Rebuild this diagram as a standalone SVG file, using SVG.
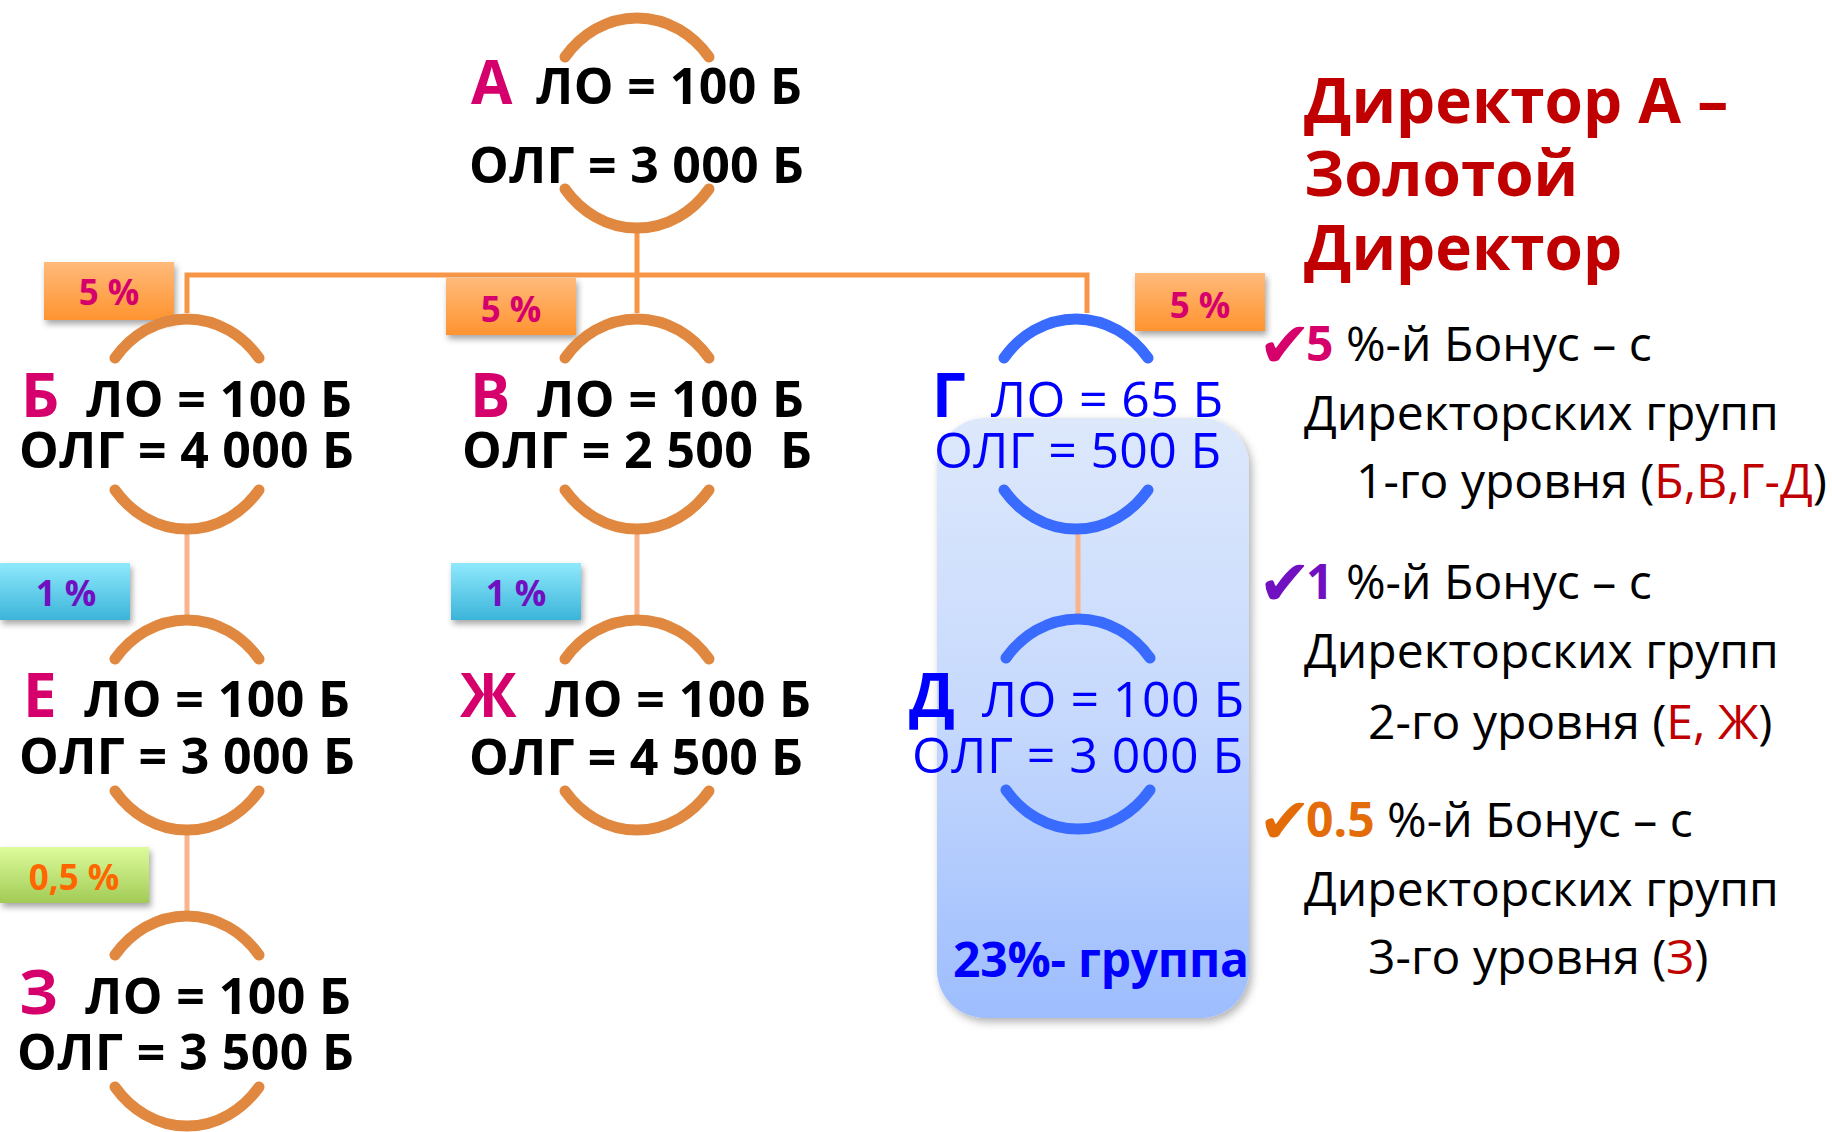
<svg xmlns="http://www.w3.org/2000/svg" xmlns:xlink="http://www.w3.org/1999/xlink" width="1832" height="1132" viewBox="0 0 1832 1132">
<defs>
<style>
.arc{fill:none;stroke:#E08840;stroke-width:11;stroke-linecap:round}
.arcb{fill:none;stroke:#3A6BFF;stroke-width:11;stroke-linecap:round}
.big{font-family:"Open Sans","Noto Sans",sans-serif;font-weight:700;font-size:60px;fill:#D6006C}
.bigb{font-family:"Open Sans","Noto Sans",sans-serif;font-weight:700;font-size:60px;fill:#0000FF}
.t{font-family:"Open Sans","Noto Sans",sans-serif;font-weight:700;font-size:50px;fill:#000}
.tb{font-family:"Open Sans","Noto Sans",sans-serif;font-weight:400;font-size:50px;fill:#0000FF}
.lbl{font-family:"Open Sans","Noto Sans",sans-serif;font-weight:700;font-size:35px;text-anchor:middle}
.conn{stroke:#F79646;stroke-width:5;fill:none}
.conn2{stroke:#F8B48C;stroke-width:5;fill:none}
.head{font-family:"Open Sans","Noto Sans",sans-serif;font-weight:700;font-size:62px;fill:#C00000}
.body{font-family:"Open Sans","Noto Sans",sans-serif;font-weight:400;font-size:48px;fill:#000}
.chk{font-family:"DejaVu Sans",sans-serif;font-size:64px;font-weight:700}
.red{fill:#C00000}
</style>
<linearGradient id="gOr" x1="0" y1="0" x2="0" y2="1"><stop offset="0" stop-color="#FFBA7A"/><stop offset="1" stop-color="#FF9430"/></linearGradient>
<linearGradient id="gCy" x1="0" y1="0" x2="0" y2="1"><stop offset="0" stop-color="#8FE9FC"/><stop offset="1" stop-color="#3CB4DA"/></linearGradient>
<linearGradient id="gGr" x1="0" y1="0" x2="0" y2="1"><stop offset="0" stop-color="#DDFC9C"/><stop offset="1" stop-color="#A2CB55"/></linearGradient>
<linearGradient id="gBl" x1="0" y1="0" x2="0" y2="1"><stop offset="0" stop-color="#DDE8FB"/><stop offset="0.5" stop-color="#C6D9FD"/><stop offset="1" stop-color="#9DBDFE"/></linearGradient>
<filter id="sh" x="-20%" y="-20%" width="150%" height="170%"><feDropShadow dx="2" dy="4" stdDeviation="3" flood-color="#000" flood-opacity="0.35"/></filter>
<filter id="shBox" x="-10%" y="-5%" width="125%" height="115%"><feDropShadow dx="3" dy="4" stdDeviation="4" flood-color="#000" flood-opacity="0.3"/></filter>
<path id="arcTop" d="M -72 -66 A 92.5 105 0 0 1 72 -66"/>
<path id="arcBot" d="M -72 66 A 92.5 105 0 0 0 72 66"/>
</defs>
<rect width="1832" height="1132" fill="#FFFFFF"/>

<!-- 23% group box -->
<g id="group23">
<rect x="937" y="418" width="312" height="600" rx="48" fill="url(#gBl)" filter="url(#shBox)"/>
<text x="953" y="977" font-family="Open Sans, Noto Sans, sans-serif" font-weight="700" font-size="48" fill="#0000FF" textLength="296">23%- группа</text>
</g>

<!-- connectors -->
<g id="connectors">
<path class="conn" d="M637 228 V313 M187 313 V275 H1087 V313"/>
<path class="conn2" d="M187 529 V615 M637 529 V615 M1078 530 V615 M187 830 V912"/>
</g>

<!-- labels -->
<g id="labels">
<g id="lbl-B"><rect x="44" y="262" width="130" height="58" fill="url(#gOr)" filter="url(#sh)"/><text class="lbl" x="109" y="305" fill="#D6006C">5 %</text></g>
<g id="lbl-V"><rect x="446" y="278" width="130" height="57" fill="url(#gOr)" filter="url(#sh)"/><text class="lbl" x="511" y="322" fill="#D6006C">5 %</text></g>
<g id="lbl-G"><rect x="1135" y="273" width="130" height="58" fill="url(#gOr)" filter="url(#sh)"/><text class="lbl" x="1200" y="318" fill="#D6006C">5 %</text></g>
<g id="lbl-E"><rect x="0" y="563" width="130" height="57" fill="url(#gCy)" filter="url(#sh)"/><text class="lbl" x="66" y="606" fill="#7010C0">1 %</text></g>
<g id="lbl-Zh"><rect x="451" y="563" width="130" height="57" fill="url(#gCy)" filter="url(#sh)"/><text class="lbl" x="516" y="606" fill="#7010C0">1 %</text></g>
<g id="lbl-Z"><rect x="0" y="847" width="149" height="56" fill="url(#gGr)" filter="url(#sh)"/><text class="lbl" x="74" y="890" fill="#FF6600">0,5 %</text></g>
</g>

<!-- nodes -->
<g id="node-A">
<use href="#arcTop" class="arc" x="637" y="123"/><use href="#arcBot" class="arc" x="637" y="123"/>
<text class="big" x="471" y="104">А</text>
<text class="t" x="536" y="104" textLength="266">ЛО = 100 Б</text>
<text class="t" x="469" y="183" textLength="335">ОЛГ = 3 000 Б</text>
</g>
<g id="node-B">
<use href="#arcTop" class="arc" x="187" y="424"/><use href="#arcBot" class="arc" x="187" y="424"/>
<text class="big" x="21" y="417">Б</text>
<text class="t" x="86" y="417" textLength="266">ЛО = 100 Б</text>
<text class="t" x="19" y="468" textLength="335">ОЛГ = 4 000 Б</text>
</g>
<g id="node-V">
<use href="#arcTop" class="arc" x="637" y="424"/><use href="#arcBot" class="arc" x="637" y="424"/>
<text class="big" x="470" y="417">В</text>
<text class="t" x="537" y="417" textLength="267">ЛО = 100 Б</text>
<text class="t" x="462" y="468" textLength="350" xml:space="preserve">ОЛГ = 2 500  Б</text>
</g>
<g id="node-G">
<use href="#arcTop" class="arcb" x="1076" y="424"/><use href="#arcBot" class="arcb" x="1076" y="424"/>
<text class="bigb" x="932" y="417">Г</text>
<text class="tb" x="991" y="417" textLength="232">ЛО = 65 Б</text>
<text class="tb" x="934" y="468" textLength="287">ОЛГ = 500 Б</text>
</g>
<g id="node-E">
<use href="#arcTop" class="arc" x="187" y="725"/><use href="#arcBot" class="arc" x="187" y="725"/>
<text class="big" x="23" y="717">Е</text>
<text class="t" x="84" y="717" textLength="266">ЛО = 100 Б</text>
<text class="t" x="19" y="774" textLength="336">ОЛГ = 3 000 Б</text>
</g>
<g id="node-Zh">
<use href="#arcTop" class="arc" x="637" y="725"/><use href="#arcBot" class="arc" x="637" y="725"/>
<text class="big" x="460" y="717">Ж</text>
<text class="t" x="545" y="717" textLength="266">ЛО = 100 Б</text>
<text class="t" x="469" y="775" textLength="334">ОЛГ = 4 500 Б</text>
</g>
<g id="node-D">
<use href="#arcTop" class="arcb" x="1078" y="724"/><use href="#arcBot" class="arcb" x="1078" y="724"/>
<text class="bigb" x="909" y="717">Д</text>
<text class="tb" x="982" y="717" textLength="262">ЛО = 100 Б</text>
<text class="tb" x="912" y="773" textLength="331">ОЛГ = 3 000 Б</text>
</g>
<g id="node-Z">
<use href="#arcTop" class="arc" x="187" y="1021"/><use href="#arcBot" class="arc" x="187" y="1021"/>
<text class="big" x="19" y="1014">З</text>
<text class="t" x="85" y="1014" textLength="266">ЛО = 100 Б</text>
<text class="t" x="17" y="1070" textLength="337">ОЛГ = 3 500 Б</text>
</g>

<!-- right panel -->
<g id="title">
<text class="head" x="1304" y="123">Директор А –</text>
<text class="head" x="1304" y="196">Золотой</text>
<text class="head" x="1304" y="270">Директор</text>
</g>
<g id="bonus-list">
<text class="chk" x="1258" y="367" fill="#D6006C">✔</text>
<text class="body" x="1306" y="361"><tspan font-weight="700" fill="#D6006C">5</tspan> %-й Бонус – с</text>
<text class="body" x="1304" y="430">Директорских групп</text>
<text class="body" x="1356" y="498">1-го уровня (<tspan class="red">Б,В,Г-Д</tspan>)</text>

<text class="chk" x="1258" y="605" fill="#7010C0">✔</text>
<text class="body" x="1306" y="599"><tspan font-weight="700" fill="#7010C0">1</tspan> %-й Бонус – с</text>
<text class="body" x="1304" y="668">Директорских групп</text>
<text class="body" x="1368" y="739">2-го уровня (<tspan class="red">Е, Ж</tspan>)</text>

<text class="chk" x="1258" y="843" fill="#E36C09">✔</text>
<text class="body" x="1306" y="837"><tspan font-weight="700" fill="#E36C09">0.5</tspan> %-й Бонус – с</text>
<text class="body" x="1304" y="906">Директорских групп</text>
<text class="body" x="1368" y="974">3-го уровня (<tspan class="red">З</tspan>)</text>
</g>
</svg>
